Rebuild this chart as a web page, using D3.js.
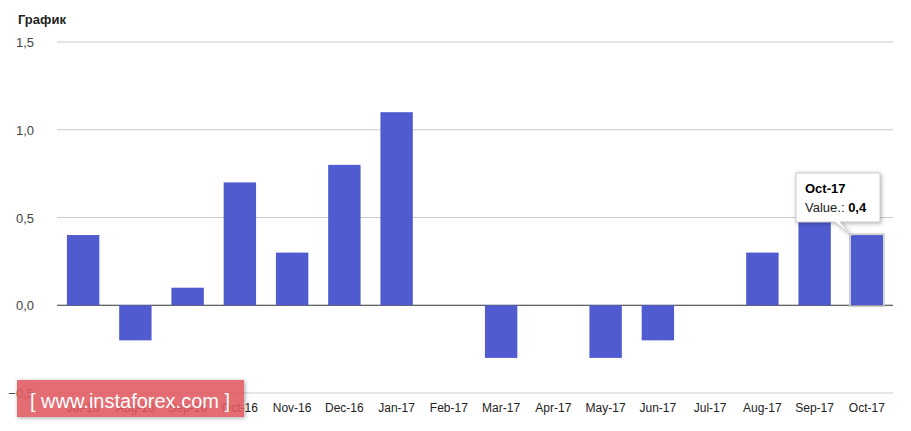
<!DOCTYPE html>
<html><head><meta charset="utf-8">
<script src="https://cdn.jsdelivr.net/npm/d3@7"></script>
<style>body{margin:0;background:#fff;font-family:Arial,"Liberation Sans",sans-serif}</style>
</head><body><div class="chart"></div>
<script>
var months = ["Jul-16","Aug-16","Sep-16","Oct-16","Nov-16","Dec-16","Jan-17","Feb-17","Mar-17","Apr-17","May-17","Jun-17","Jul-17","Aug-17","Sep-17","Oct-17"];
var values = [0.4,-0.2,0.1,0.7,0.3,0.8,1.1,0,-0.3,0,-0.3,-0.2,0,0.3,0.5,0.4];
var yTicks = [-0.5,0,0.5,1,1.5];

var svg = d3.select(".chart").append("svg").attr("width",911).attr("height",431);
var fmt = d => d3.format(".1f")(d).replace(".",",");

var x = d3.scaleBand().domain(months).range([57,893]).paddingInner(0.38).paddingOuter(0.19);
var y = d3.scaleLinear().domain([-0.5,1.5]).range([393,42]);

svg.append("text").attr("x",18).attr("y",24).attr("font-size",13).attr("font-weight","bold").attr("fill","#222").text("График");

svg.selectAll(".grid").data(yTicks).enter().append("line")
  .attr("x1",57).attr("x2",893).attr("y1",d=>y(d)).attr("y2",d=>y(d))
  .attr("stroke",d=>d===0?"#333":"#ccc");
svg.selectAll(".yl").data(yTicks).enter().append("text")
  .attr("x",34).attr("y",d=>y(d)+5).attr("text-anchor","end").attr("font-size",13).attr("fill","#444").text(fmt);

svg.selectAll(".bar").data(values).enter().append("rect")
  .attr("x",(d,i)=>x(months[i])).attr("width",x.bandwidth())
  .attr("y",d=>y(Math.max(0,d))).attr("height",d=>Math.abs(y(d)-y(0)))
  .attr("fill","#4f5bcf");

svg.selectAll(".xl").data(months).enter().append("text")
  .attr("x",d=>x(d)+x.bandwidth()/2).attr("y",412).attr("text-anchor","middle")
  .attr("font-size",12).attr("fill","#222").text(d=>d);

// highlighted last bar + tooltip
var last = months.length-1;
svg.append("rect").attr("x",x(months[last])-1).attr("y",y(values[last])-1)
  .attr("width",x.bandwidth()+2).attr("height",y(0)-y(values[last])+2)
  .attr("fill","none").attr("stroke","#ccc").attr("stroke-width",1.5);
var tg = svg.append("g");
tg.append("path").attr("d","M796,173 H880 V222 H840 L852,236 L835,222 H796 Z")
  .attr("fill","#fff").attr("stroke","#ccc").attr("filter","drop-shadow(1px 1px 2px rgba(0,0,0,0.3))");
tg.append("text").attr("x",805).attr("y",193).attr("font-size",13).attr("font-weight","bold").text(months[last]);
var t = tg.append("text").attr("x",805).attr("y",212).attr("font-size",13).attr("fill","#222");
t.append("tspan").text("Value.: ");
t.append("tspan").attr("font-weight","bold").attr("fill","#000").text(fmt(values[last]));

// watermark
svg.append("rect").attr("x",17).attr("y",380).attr("width",227).attr("height",37)
  .attr("fill","rgb(224,90,95)").attr("opacity",0.88).attr("filter","drop-shadow(1px 1px 2px rgba(0,0,0,0.4))");
svg.append("text").attr("x",30).attr("y",408).attr("fill","#fff").attr("font-size",20).text("[ www.instaforex.com ]");
</script></body></html>
